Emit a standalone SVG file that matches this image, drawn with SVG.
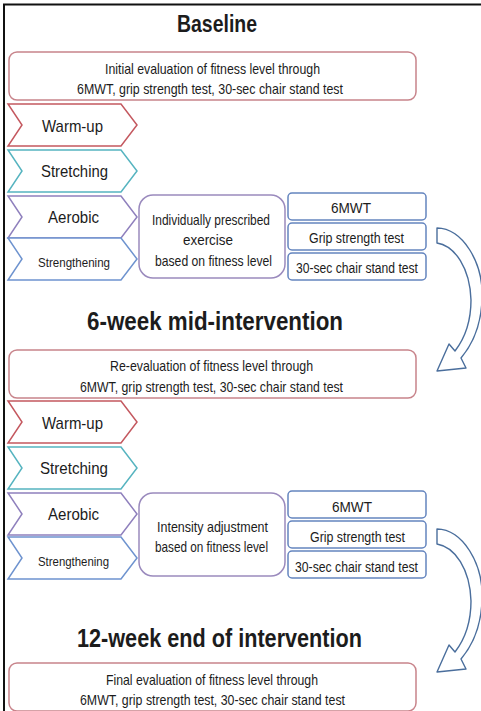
<svg xmlns="http://www.w3.org/2000/svg" width="481" height="711" viewBox="0 0 481 711">
<defs>
<style>
text{font-family:"Liberation Sans",Arial,sans-serif;fill:#1c1c1c}
.title{font-weight:bold}
.t{font-size:14.5px}
.c{font-size:17px}
.cs{font-size:13.5px}
.m{font-size:14.5px}
.r{font-size:14px}
.eval{fill:#fff;stroke:#c8848b;stroke-width:1.5}
.warm{fill:#fff;stroke:#c4585f;stroke-width:1.5}
.stretch{fill:#fff;stroke:#56b4c0;stroke-width:1.5}
.aero{fill:#fff;stroke:#8f80bd;stroke-width:1.5}
.streng{fill:#fff;stroke:#6e93cf;stroke-width:1.5}
.mid{fill:#fff;stroke:#9a8abd;stroke-width:1.5}
.test{fill:#fff;stroke:#6485bf;stroke-width:1.5}
.arrow{fill:#fff;stroke:#4a6e9c;stroke-width:1.4;stroke-linejoin:round}
</style>
<path id="chev" d="M0,0 H113 L129,21 L113,42 H0 L14,21 Z"/>
<path id="curl" d="M437,228 C462,228 484,262 482,300 C481,325 472,345 461,358 L466,368 L437,371 L449,344 L455,351 C465,338 471,320 471,300 C470,268 455,246 437,243 Z"/>
</defs>
<rect width="481" height="711" fill="#fff"/>
<path d="M4,711 V4.5 H481" fill="none" stroke="#111" stroke-width="2"/>

<g id="baseline-title"><text class="title" x="177" y="32" font-size="24" textLength="80" lengthAdjust="spacingAndGlyphs">Baseline</text></g>
<g id="baseline-eval">
<rect class="eval" x="9" y="52" width="407" height="48" rx="8"/>
<text class="t" x="105" y="74" textLength="215" lengthAdjust="spacingAndGlyphs">Initial evaluation of fitness level through</text>
<text class="t" x="77" y="94" textLength="266" lengthAdjust="spacingAndGlyphs">6MWT, grip strength test, 30-sec chair stand test</text>
</g>
<g id="p1-warmup"><use href="#chev" class="warm" x="8" y="104"/><text class="c" x="42" y="132" textLength="61" lengthAdjust="spacingAndGlyphs">Warm-up</text></g>
<g id="p1-stretching"><use href="#chev" class="stretch" x="8" y="150"/><text class="c" x="41" y="177" textLength="67" lengthAdjust="spacingAndGlyphs">Stretching</text></g>
<g id="p1-aerobic"><use href="#chev" class="aero" x="8" y="196"/><text class="c" x="48" y="223" textLength="51" lengthAdjust="spacingAndGlyphs">Aerobic</text></g>
<g id="p1-strengthening"><use href="#chev" class="streng" x="8" y="238"/><text class="cs" x="38" y="267" textLength="72" lengthAdjust="spacingAndGlyphs">Strengthening</text></g>
<g id="p1-prescribed">
<rect class="mid" x="139" y="195" width="146" height="83" rx="14"/>
<text class="m" x="152" y="225" textLength="118" lengthAdjust="spacingAndGlyphs">Individually prescribed</text>
<text class="m" x="183" y="245" textLength="50" lengthAdjust="spacingAndGlyphs">exercise</text>
<text class="m" x="155" y="266" textLength="117" lengthAdjust="spacingAndGlyphs">based on fitness level</text>
</g>
<g id="p1-6mwt"><rect class="test" x="288" y="193" width="138" height="27" rx="4"/><text class="r" x="331" y="213" textLength="40" lengthAdjust="spacingAndGlyphs">6MWT</text></g>
<g id="p1-grip"><rect class="test" x="288" y="223" width="138" height="27" rx="4"/><text class="r" x="309" y="243" textLength="95" lengthAdjust="spacingAndGlyphs">Grip strength test</text></g>
<g id="p1-chair"><rect class="test" x="288" y="253" width="138" height="27" rx="4"/><text class="r" x="296" y="273" textLength="122" lengthAdjust="spacingAndGlyphs">30-sec chair stand test</text></g>

<g id="mid-title"><text class="title" x="87" y="330" font-size="25" textLength="256" lengthAdjust="spacingAndGlyphs">6-week mid-intervention</text></g>
<g id="mid-eval">
<rect class="eval" x="9" y="350" width="407" height="48" rx="8"/>
<text class="t" x="110" y="371" textLength="203" lengthAdjust="spacingAndGlyphs">Re-evaluation of fitness level through</text>
<text class="t" x="80" y="392" textLength="263" lengthAdjust="spacingAndGlyphs">6MWT, grip strength test, 30-sec chair stand test</text>
</g>
<g id="p2-warmup"><use href="#chev" class="warm" x="8" y="401"/><text class="c" x="42" y="429" textLength="61" lengthAdjust="spacingAndGlyphs">Warm-up</text></g>
<g id="p2-stretching"><use href="#chev" class="stretch" x="8" y="447"/><text class="c" x="40" y="474" textLength="68" lengthAdjust="spacingAndGlyphs">Stretching</text></g>
<g id="p2-aerobic"><use href="#chev" class="aero" x="8" y="493"/><text class="c" x="48" y="520" textLength="51" lengthAdjust="spacingAndGlyphs">Aerobic</text></g>
<g id="p2-strengthening"><use href="#chev" class="streng" x="8" y="537"/><text class="cs" x="38" y="566" textLength="71" lengthAdjust="spacingAndGlyphs">Strengthening</text></g>
<g id="p2-adjustment">
<rect class="mid" x="139" y="493" width="146" height="83" rx="14"/>
<text class="m" x="157" y="532" textLength="111" lengthAdjust="spacingAndGlyphs">Intensity adjustment</text>
<text class="m" x="155" y="552" textLength="113" lengthAdjust="spacingAndGlyphs">based on fitness level</text>
</g>
<g id="p2-6mwt"><rect class="test" x="288" y="491" width="138" height="27" rx="4"/><text class="r" x="332" y="512" textLength="40" lengthAdjust="spacingAndGlyphs">6MWT</text></g>
<g id="p2-grip"><rect class="test" x="288" y="521" width="138" height="27" rx="4"/><text class="r" x="310" y="542" textLength="95" lengthAdjust="spacingAndGlyphs">Grip strength test</text></g>
<g id="p2-chair"><rect class="test" x="288" y="551" width="138" height="27" rx="4"/><text class="r" x="295" y="572" textLength="123" lengthAdjust="spacingAndGlyphs">30-sec chair stand test</text></g>

<g id="end-title"><text class="title" x="77" y="647" font-size="26" textLength="285" lengthAdjust="spacingAndGlyphs">12-week end of intervention</text></g>
<g id="final-eval">
<rect class="eval" x="9" y="663" width="407" height="48" rx="8"/>
<text class="t" x="106" y="685" textLength="212" lengthAdjust="spacingAndGlyphs">Final evaluation of fitness level through</text>
<text class="t" x="80" y="705" textLength="265" lengthAdjust="spacingAndGlyphs">6MWT, grip strength test, 30-sec chair stand test</text>
</g>

<g id="connectors">
<use href="#curl" class="arrow"/>
<use href="#curl" class="arrow" y="301"/>
</g>
</svg>
